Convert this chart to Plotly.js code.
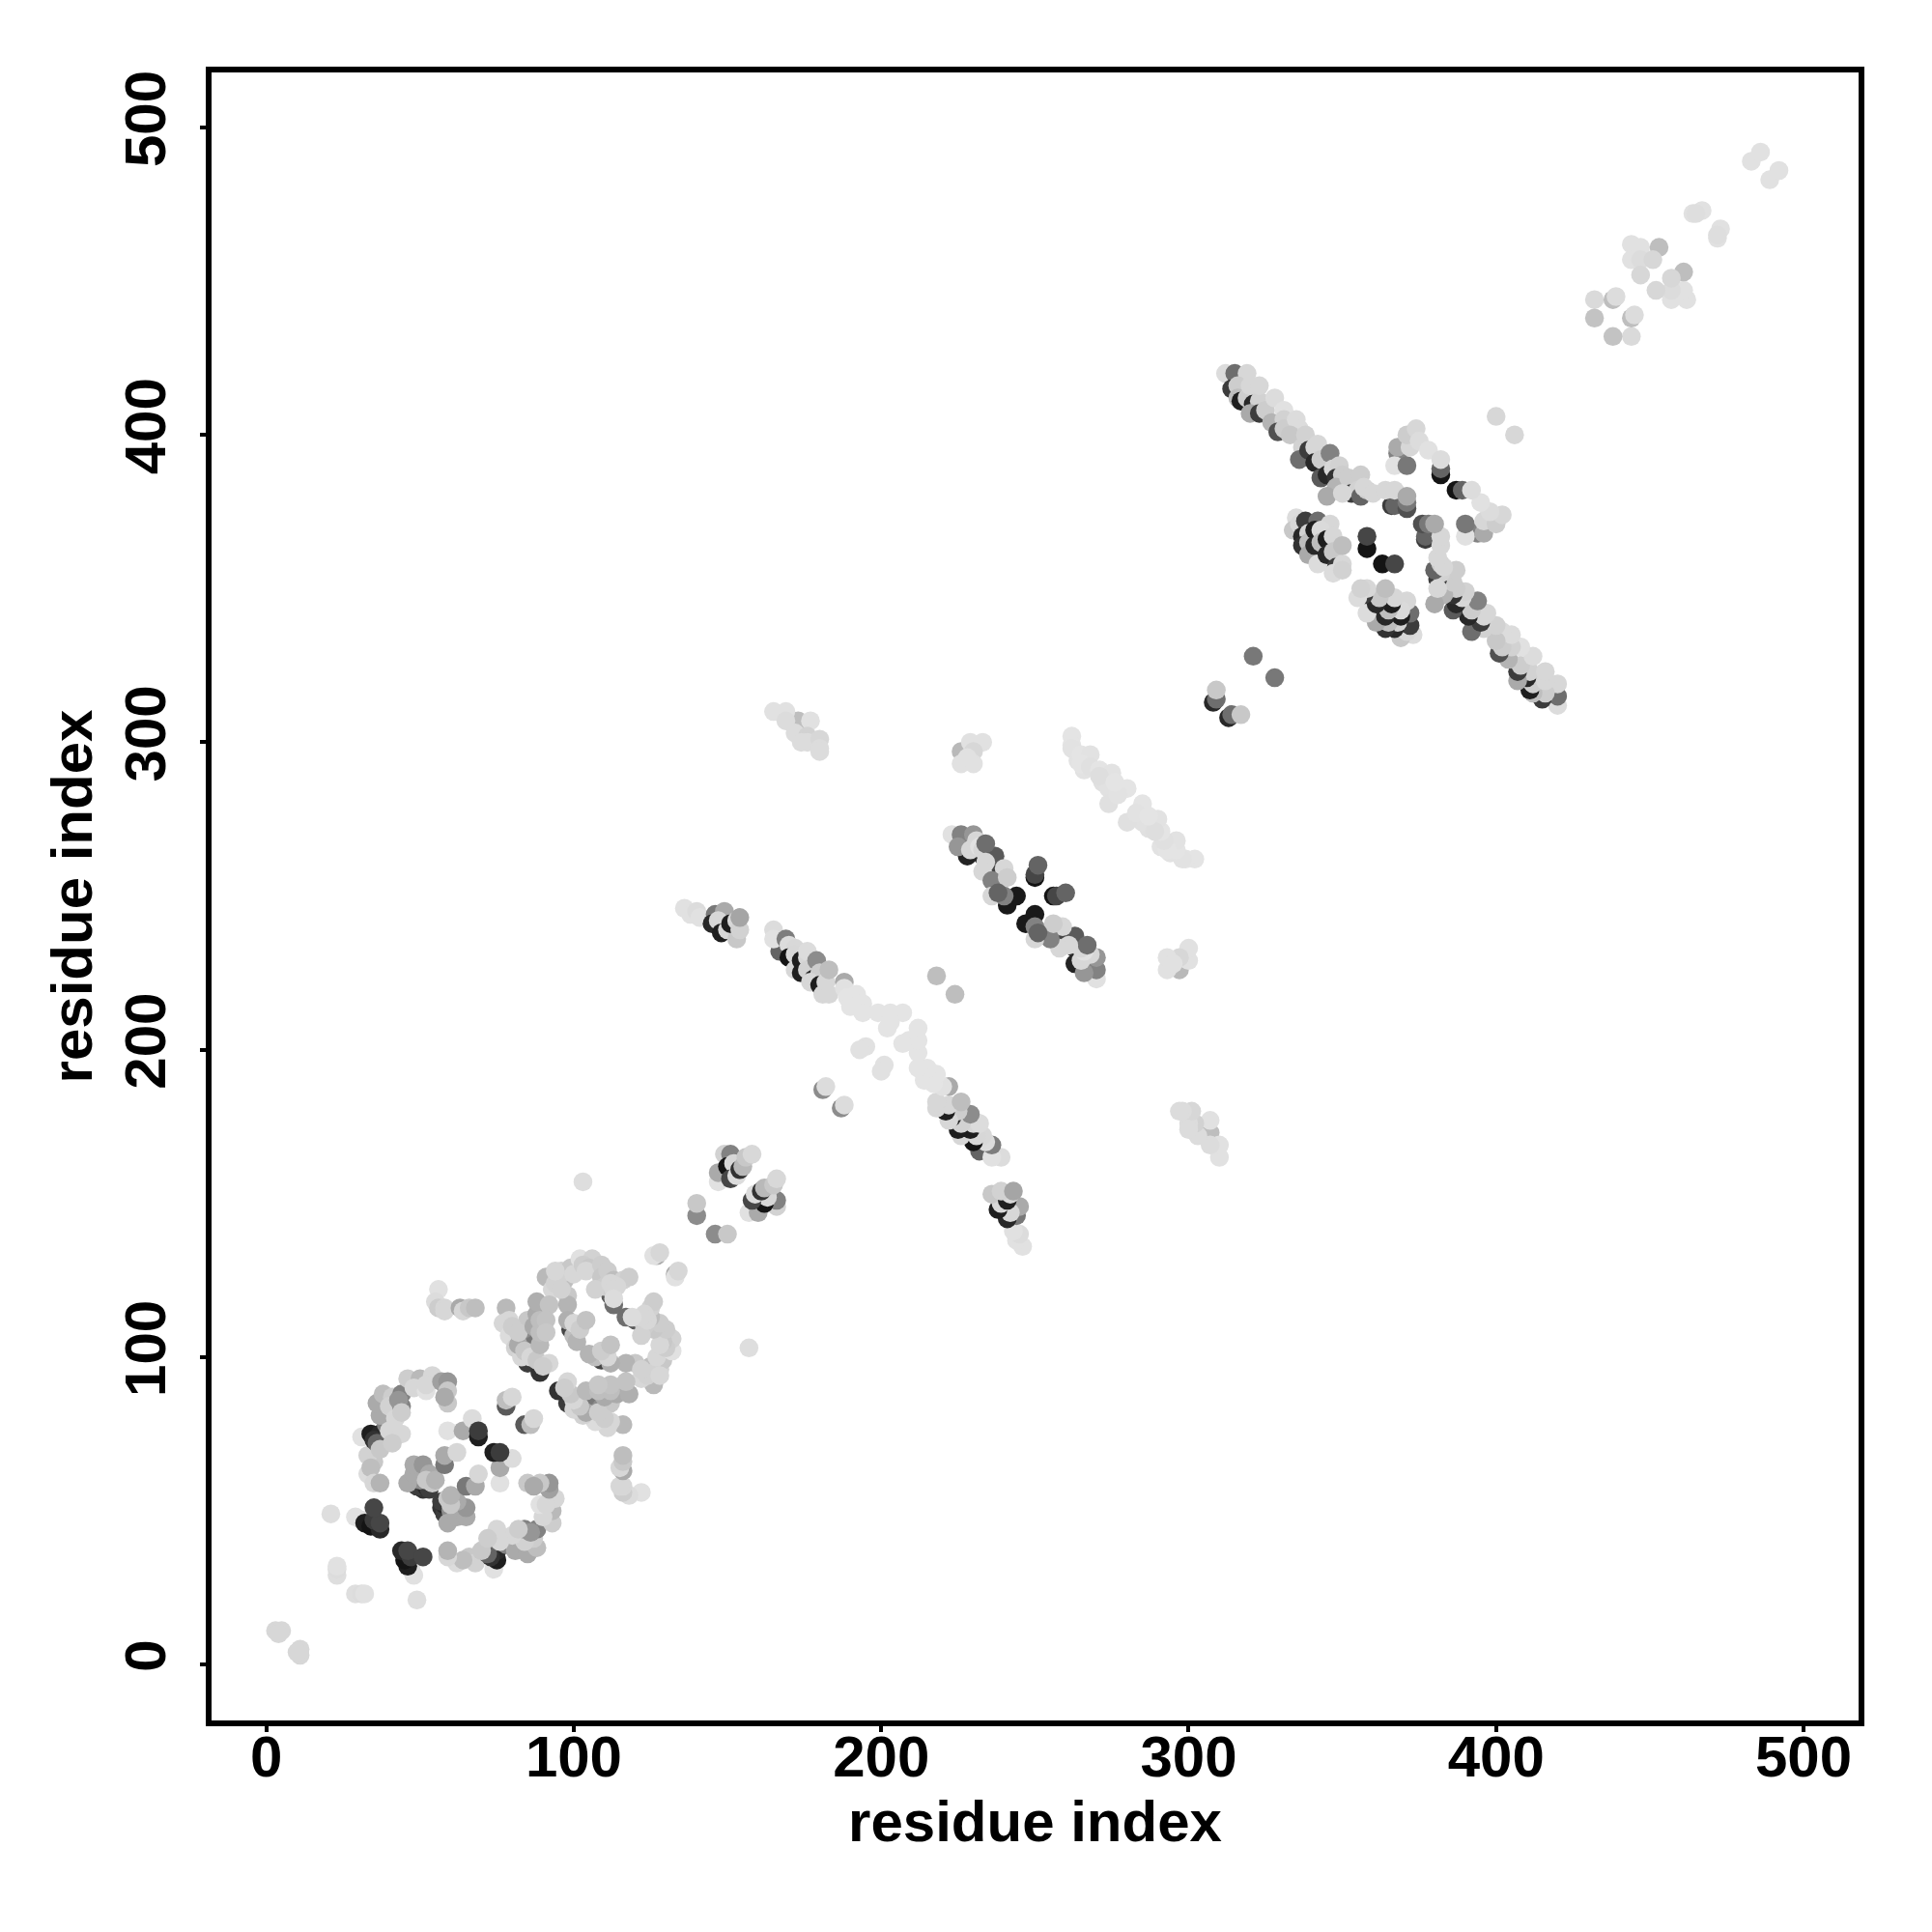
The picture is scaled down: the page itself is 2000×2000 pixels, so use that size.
<!DOCTYPE html>
<html><head><meta charset="utf-8">
<script src="https://cdn.plot.ly/plotly-3.0.0.min.js"></script>
<style>html,body{margin:0;padding:0;background:#fff}</style></head>
<body><div id="chart" style="width:2000px;height:2000px"></div>
<script>
// contacts are [residue i, residue j, grey level]; the map is symmetric, each pair is drawn at (i,j) and (j,i)
const termini=[[3,11,215],[5,11,215],[4,10,215],[23,29,222],[23,31,220],[23,32,225],[21,49,222]];
const ringA=[[31,47,220],[29,48,225],[31,74,225],[33,62,220],[35,66,200],[36,70,200],[33,68,210],[34,64,190],[35,59,215],[37,59,180],
[32,46,30],[34,45,20],[37,44,40],[35,47,60],[37,46,70],[35,51,70],
[34,75,30],[37,75,40],[35,73,50],[36,72,100],[39,78,130],[38,84,130],[37,81,170],[36,85,170],[38,88,190],[41,87,205],[40,84,210],[42,80,215],[40,76,215],[44,75,215],[37,70,200],[41,72,205],[44,84,130],[44,88,130],[43,86,150],[44,82,205],[46,93,205],[50,93,185],[48,90,215],[52,89,225],[54,94,215],[52,91,215],[57,92,160],[59,92,150],[59,89,200],[59,85,200],[58,87,170]];
const ringAinner=[[51,57,50],[49,58,60],[52,58,40],[53,57,60],[50,60,140],[46,59,170],[48,62,170],[48,65,170],[51,65,150],[53,62,170],[52,60,200],[54,59,200],[55,60,180],[58,65,120],[58,68,170],[62,69,215],
[59,76,225],[64,76,170],[67,80,220],[69,74,30],[69,76,60],[78,84,90],[78,86,190],[80,87,215]];
const ringB=[[85,98,60],[89,95,50],[99,109,70],[111,122,70],[112,120,90],[113,117,110],[83,108,120],[84,106,140],[86,102,110],[87,104,120],[78,116,185],[79,112,215],[77,111,215],[79,107,220],[81,103,210],[83,100,215],[82,104,170],[85,112,200],[80,110,205],[82,108,205],[84,102,200],[86,100,215],
[88,99,200],[92,98,215],[90,97,205],[87,110,170],[88,114,170],[88,118,175],[89,104,185],[89,108,190],[89,112,190],[91,126,185],[93,122,215],[92,117,195],[91,112,195],[91,108,200],
[96,128,210],[99,129,200],[97,125,190],[98,120,200],[98,117,180],[98,112,175],[94,124,210],[95,126,210],[94,128,215],[96,122,210],[100,127,215],[100,107,190],[101,105,180],[100,111,215],[102,109,205],[104,112,195],[102,132,225],[106,132,210],[103,130,205],[105,129,200],[104,128,215],[109,130,205],[109,126,200],[111,128,205],[110,123,205],[107,122,210],[113,125,190],[116,125,210],[118,126,205],[112,124,215],[114,123,215],[113,122,215],[113,119,220]];
const smallLinks=[[56,122,225],[55,118,220],[56,116,205],[58,116,215],[58,115,215],[63,116,170],[64,115,215],[66,116,200],[68,116,190],
[127,133,170],[126,133,225],[128,134,215],[103,157,222],[140,146,140],[140,150,200]];
const clusterD=[[147,157,225],[147,160,170],[149,166,210],[151,166,130],[150,162,20],[152,163,215],[151,158,70],[153,159,220],[154,161,50],[155,162,185],[156,165,200],[158,166,216]];
const stripeE1=[[136,246,225],[138,244,225],[140,245,220],[141,243,225],[146,244,120],[149,245,170],[145,241,40],[147,242,215],[148,238,30],[150,239,215],[153,236,200],[151,241,30],[153,242,215],[154,239,210],[154,243,165]];
const stripeE2=[[167,232,100],[165,239,220],[165,236,225],[169,236,125],[170,234,220],[172,233,216],[170,230,20],[172,231,215],[172,226,215],[174,229,30],[176,230,215],[176,232,220],[174,225,30],[176,226,210],[179,229,140],[178,223,40],[180,225,205],[177,222,215],[180,221,30],[182,222,215],[183,226,190],[181,218,215],[183,218,215],[188,222,170],[188,220,225],[189,217,228],[192,218,228],[190,214,228],[194,215,228],[194,212,228],[199,212,228],[203,212,228],[207,212,228],[203,209,228],[202,207,228],[195,201,225],[193,200,225],[181,187,140],[182,188,220],[218,224,190]];
const clusterF=[[173,307,190],[165,310,225],[169,310,225],[169,307,220],[177,307,225],[172,303,220],[176,302,210],[176,300,220],[180,301,215],[180,298,220],[180,297,220],[174,300,220]];
const clusterG=[[226,297,185],[229,300,225],[233,300,225],[230,297,215],[226,293,225],[230,293,225],[228,295,225]];
const stripeH=[[262,302,228],[262,299,228],[262,298,226],[264,294,226],[265,296,228],[266,291,226],[268,296,226],[265,293,228],[268,292,224],[271,291,228],[275,290,226],[272,287,224],[274,285,225],[280,285,228],[274,280,224],[277,283,226],[271,289,222],[276,287,228]];
const stripeI=[[228,263,35],[233,263,40],[241,247,25],[244,250,25],[223,270,225],[226,270,130],[230,270,150],[225,266,150],[231,268,215],[229,265,215],[232,266,225],[233,265,215],[236,258,70],[237,263,90],[234,267,110],[234,261,215],[233,258,215],[240,259,215],[236,255,130],[241,256,205],[236,250,215],[240,250,130],[238,251,100],[250,256,20],[250,257,70],[251,260,100]];
const pairs300=[[308,313,40],[309,314,110],[309,317,200],[321,328,120]];
const stripeJ=[[312,420,220],[315,420,110],[319,420,215],[314,415,60],[316,416,205],[316,412,190],[317,411,30],[319,412,205],[320,416,215],[321,410,40],[323,411,210],[323,416,215],[320,407,170],[323,407,60],[325,408,205],[328,412,220],[327,404,180],[331,408,225],[331,405,210],[329,401,80],[331,402,205],[335,405,220],[336,402,220],[333,400,200],[337,396,210],[338,400,210],[336,392,110],[339,395,60],[341,396,215],[342,397,215],[341,391,40],[343,392,205],[346,394,130],[343,386,90],[345,387,40],[347,389,215],[349,390,210],[348,386,50],[350,387,205],[348,383,180],[352,386,205],[356,387,205],[345,380,170],[353,381,60],[355,382,210],[350,381,215],[356,380,100],[358,382,205],[357,383,215],[360,381,215],[366,377,60],[367,377,100],[364,382,215],[367,382,215],[371,376,80],[371,378,120],[371,380,170]];
const stripeK=[[368,394,130],[367,390,225],[371,390,120],[368,396,170],[372,396,215],[371,400,205],[374,402,215],[375,398,220],[378,395,225],[382,387,20],[382,389,100],[382,392,220]];
const clusterL=[[335,373,220],[334,369,200],[336,371,215],[338,372,60],[342,372,110],[346,371,215],[337,367,40],[339,368,210],[337,364,50],[339,365,190],[339,361,170],[341,369,30],[343,369,218],[341,364,40],[343,365,190],[342,358,220],[345,366,30],[347,367,215],[345,361,40],[347,362,200],[348,357,60],[350,358,215],[350,364,190],[347,355,220],[350,356,210],[358,363,20],[358,367,70]];
const cterm=[[400,406,215],[483,489,225],[486,492,225],[464,472,225],[467,473,225],[465,472,222],[444,462,225],[447,461,225],[453,461,190],[444,457,225],[447,457,220],[451,457,215],[447,452,215],[432,444,218],[438,444,190],[439,445,220],[432,438,195]];
const tickValues=[0,100,200,300,400,500];
const axisLabel="residue index";

const groups=[termini,ringA,ringAinner,ringB,smallLinks,clusterD,stripeE1,stripeE2,clusterF,clusterG,stripeH,stripeI,pairs300,stripeJ,stripeK,clusterL,cterm];
const xs=[],ys=[],cs=[];
groups.forEach(g=>g.forEach(([i,j,k])=>{
  const c=`rgb(${k},${k},${k})`;
  xs.push(i,j);ys.push(j,i);cs.push(c,c);
}));
const tickFont={family:'"Liberation Sans",Arial,sans-serif',size:60,color:'#000',weight:700};
const axisBase={tickmode:'array',tickvals:tickValues,ticktext:tickValues.map(String),ticks:'outside',ticklen:6,tickwidth:4,tickcolor:'#000',
  showline:true,mirror:true,linewidth:6,linecolor:'#000',showgrid:false,zeroline:false,tickfont:tickFont};
Plotly.newPlot('chart',[{type:'scatter',mode:'markers',x:xs,y:ys,marker:{size:19.5,color:cs,opacity:1,line:{width:0}},hoverinfo:'skip'}],{
  width:2000,height:2000,autosize:false,showlegend:false,paper_bgcolor:'#fff',plot_bgcolor:'#fff',
  margin:{l:219.3,r:76,t:75,b:219,pad:0},
  xaxis:Object.assign({},axisBase,{range:[-17.8,517.9],ticklabelstandoff:-26,title:{text:axisLabel,font:tickFont,standoff:14}}),
  yaxis:Object.assign({},axisBase,{range:[-18.2,517.9],tickangle:-90,ticklabelstandoff:12,ticklabelshift:9.5,title:{text:axisLabel,font:tickFont,standoff:4}})
},{staticPlot:true,displayModeBar:false});
</script></body></html>
